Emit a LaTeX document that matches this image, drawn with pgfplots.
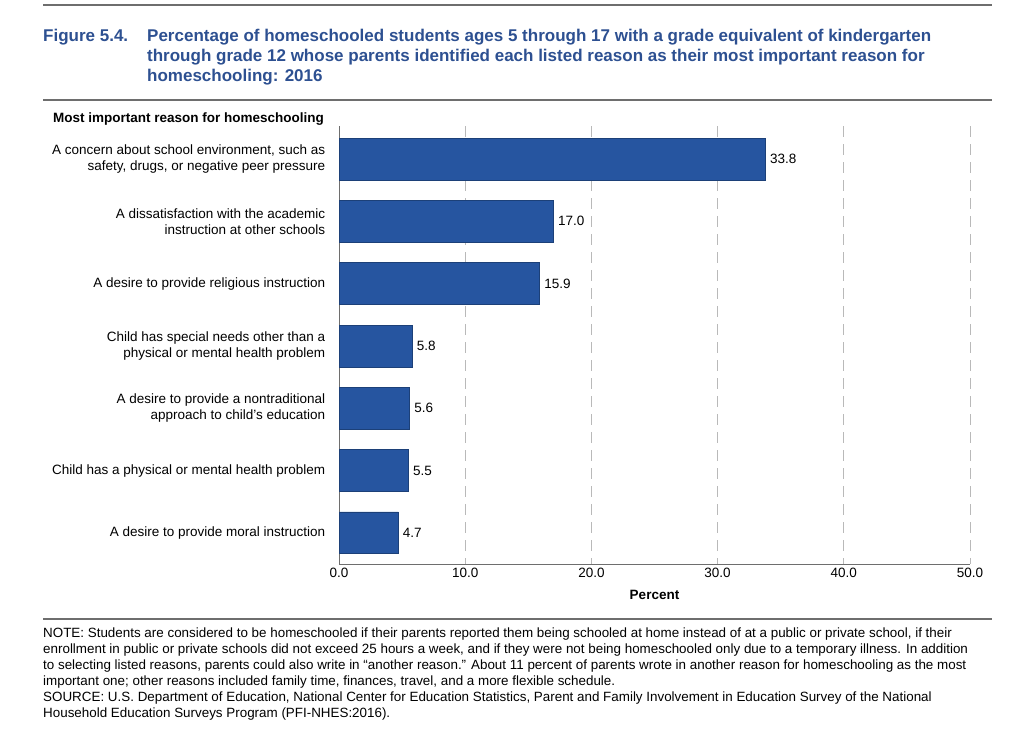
\documentclass[border=0pt]{standalone}
\usepackage{fontspec}
\setmainfont{Liberation Sans}
\usepackage{pgfplots}
\pgfplotsset{compat=1.18}
\definecolor{titleblue}{RGB}{45,80,145}
\definecolor{barblue}{RGB}{38,85,160}
\definecolor{rulegray}{RGB}{110,110,110}
\begin{document}
\begin{tikzpicture}
\path[use as bounding box] (0,0) rectangle (1035bp,-737bp);
% rules
\draw[rulegray, line width=1.2bp] (43bp,-5bp) -- (992bp,-5bp);
\draw[rulegray, line width=1.2bp] (43bp,-100bp) -- (992bp,-100bp);
\draw[rulegray, line width=1.2bp] (43bp,-619bp) -- (992bp,-619bp);
% title
\begin{scope}[every node/.style={anchor=base west, inner sep=0pt, text=titleblue, font=\fontsize{17bp}{20bp}\selectfont\bfseries}]
\node at (43bp,-41bp) {Figure 5.4.};
\node at (147bp,-41bp) {Percentage of homeschooled students ages 5 through 17 with a grade equivalent of kindergarten};
\node at (147bp,-61bp) {through grade 12 whose parents identified each listed reason as their most important reason for};
\node at (147bp,-81bp) {homeschooling: 2016};
\end{scope}
\node[anchor=base west, inner sep=0pt, font=\fontsize{13.5bp}{15bp}\selectfont\bfseries] at (53bp,-122bp) {Most important reason for homeschooling};
% notes
\begin{scope}[every node/.style={anchor=base west, inner sep=0pt, font=\fontsize{13.4bp}{16bp}\selectfont}]
\node at (43bp,-637bp) {NOTE: Students are considered to be homeschooled if their parents reported them being schooled at home instead of at a public or private school, if their};
\node at (43bp,-653bp) {enrollment in public or private schools did not exceed 25 hours a week, and if they were not being homeschooled only due to a temporary illness. In addition};
\node at (43bp,-669bp) {to selecting listed reasons, parents could also write in “another reason.” About 11 percent of parents wrote in another reason for homeschooling as the most};
\node at (43bp,-685bp) {important one; other reasons included family time, finances, travel, and a more flexible schedule.};
\node at (43bp,-701bp) {SOURCE: U.S. Department of Education, National Center for Education Statistics, Parent and Family Involvement in Education Survey of the National};
\node at (43bp,-717bp) {Household Education Surveys Program (PFI-NHES:2016).};
\end{scope}
\begin{axis}[
  at={(339bp,-564bp)}, anchor=south west,
  scale only axis, width=631bp, height=438bp,
  xbar, bar width=0.67,
  xmin=0, xmax=50, ymin=0.47, ymax=7.5,
  y dir=reverse,
  axis x line*=bottom, axis y line*=left,
  axis line style={rulegray, line width=1bp},
  xtick={0,10,20,30,40,50},
  xtick style={draw=none},
  ytick={1,2,3,4,5,6,7},
  ytick style={draw=none},
  x tick label style={/pgf/number format/.cd, fixed, fixed zerofill, precision=1, /tikz/.cd, font=\fontsize{13.5bp}{15bp}\selectfont, yshift=-1bp},
  /pgf/number format/assume math mode=true,
  xmajorgrids,
  major grid style={gray!55, line width=0.8bp, dash pattern=on 11bp off 7bp},
  yticklabels={{A concern about school environment, such as\\safety, drugs, or negative peer pressure},
    {A dissatisfaction with the academic\\instruction at other schools},
    {A desire to provide religious instruction},
    {Child has special needs other than a\\physical or mental health problem},
    {A desire to provide a nontraditional\\approach to child’s education},
    {Child has a physical or mental health problem},
    {A desire to provide moral instruction}},
  y tick label style={align=right, font=\fontsize{13.5bp}{16bp}\selectfont, xshift=-6bp},
  xlabel={Percent},
  xlabel style={font=\fontsize{13.5bp}{15bp}\selectfont\bfseries, yshift=-5bp},
  nodes near coords,
  nodes near coords style={/pgf/number format/.cd, fixed, fixed zerofill, precision=1, assume math mode=true, /tikz/.cd, font=\fontsize{13.5bp}{15bp}\selectfont, xshift=1bp},
  clip=false,
]
\addplot[fill=barblue, draw=barblue!75!black, line width=0.6bp] coordinates {
(33.8,1) (17.0,2) (15.9,3) (5.8,4) (5.6,5) (5.5,6) (4.7,7)};
\end{axis}
\end{tikzpicture}
\end{document}
